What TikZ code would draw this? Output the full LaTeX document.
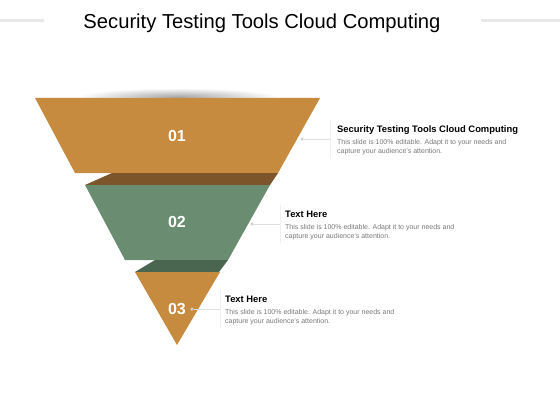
\documentclass[tikz,border=0pt]{standalone}
\usepackage{fontspec}
\setmainfont{Liberation Sans}
\usetikzlibrary{positioning}
\definecolor{ochre}{RGB}{198,139,62}
\definecolor{ochredark}{RGB}{124,86,42}
\definecolor{sage}{RGB}{106,140,112}
\definecolor{sagedark}{RGB}{74,102,80}
\definecolor{desctext}{RGB}{120,120,120}
\tikzstyle{number} = [text=white, font=\fontsize{16}{16}\selectfont\bfseries]
\tikzstyle{dot} = [circle, fill=gray!35, inner sep=0pt, minimum size=3.5pt]
\tikzstyle{leader} = [gray!25, line width=0.7pt]
\tikzstyle{divider} = [gray!12, line width=1pt]
\tikzstyle{heading} = [anchor=base west, inner sep=0pt, font=\fontsize{9.4}{10}\selectfont\bfseries]
\tikzstyle{desc} = [inner sep=0pt, align=left, text=desctext, font=\fontsize{7}{8.8}\selectfont]
\tikzstyle{banner} = [gray!18, line width=3pt]

\begin{document}
\begin{tikzpicture}[x=1pt, y=-1pt]
  \useasboundingbox (0,0) rectangle (560,420);

  % Title and top rules
  \node (title) at (262,23) {\fontsize{20.2}{22}\selectfont Security Testing Tools Cloud Computing};
  \draw[banner] (0,21) -- (44,21);
  \draw[banner] (481,21) -- (560,21);

  % Shadow above the funnel
  \shade[inner color=gray!70, outer color=white] (178,97) ellipse (100 and 9);

  % Funnel segments
  \fill[ochre] (35,98) -- (320,98) -- (278,173) -- (75,173) -- cycle;
  \fill[ochredark] (112,173) -- (278,173) -- (270,185) -- (85,185) -- cycle;
  \fill[sage] (85,185) -- (270,185) -- (228,260) -- (125,260) -- cycle;
  \fill[sagedark] (155,260) -- (228,260) -- (219,272) -- (135,272) -- cycle;
  \fill[ochre] (135,272) -- (220,272) -- (177,345) -- cycle;

  % Numbers
  \node (num1) [number] at (177,136) {01};
  \node (num2) [number] at (177,222) {02};
  \node (num3) [number] at (177,309) {03};

  % Leaders
  \node (dot1) [dot] at (302,139) {};
  \node (dot2) [dot] at (252,224) {};
  \node (dot3) [dot] at (192,309) {};
  \coordinate (tick1) at (330,139);
  \coordinate (tick2) at (280,224);
  \coordinate (tick3) at (220,309);
  \draw[leader] (dot1) -- (tick1);
  \draw[leader] (dot2) -- (tick2);
  \draw[leader] (dot3) -- (tick3);
  \draw[divider] ([yshift=-19pt]tick1) -- ([yshift=19pt]tick1);
  \draw[divider] ([yshift=-19pt]tick2) -- ([yshift=19pt]tick2);
  \draw[divider] ([yshift=-19pt]tick3) -- ([yshift=19pt]tick3);

  % Text blocks
  \node (head1) [heading] at (337,132) {Security Testing Tools Cloud Computing};
  \node (desc1) [desc, below=7pt of head1.base west, anchor=north west] {This slide is 100\% editable. Adapt it to your needs and\\capture your audience's attention.};
  \node (head2) [heading] at (285,217) {Text Here};
  \node (desc2) [desc, below=7pt of head2.base west, anchor=north west] {This slide is 100\% editable. Adapt it to your needs and\\capture your audience's attention.};
  \node (head3) [heading] at (225,302) {Text Here};
  \node (desc3) [desc, below=7pt of head3.base west, anchor=north west] {This slide is 100\% editable. Adapt it to your needs and\\capture your audience's attention.};

\end{tikzpicture}
\end{document}
